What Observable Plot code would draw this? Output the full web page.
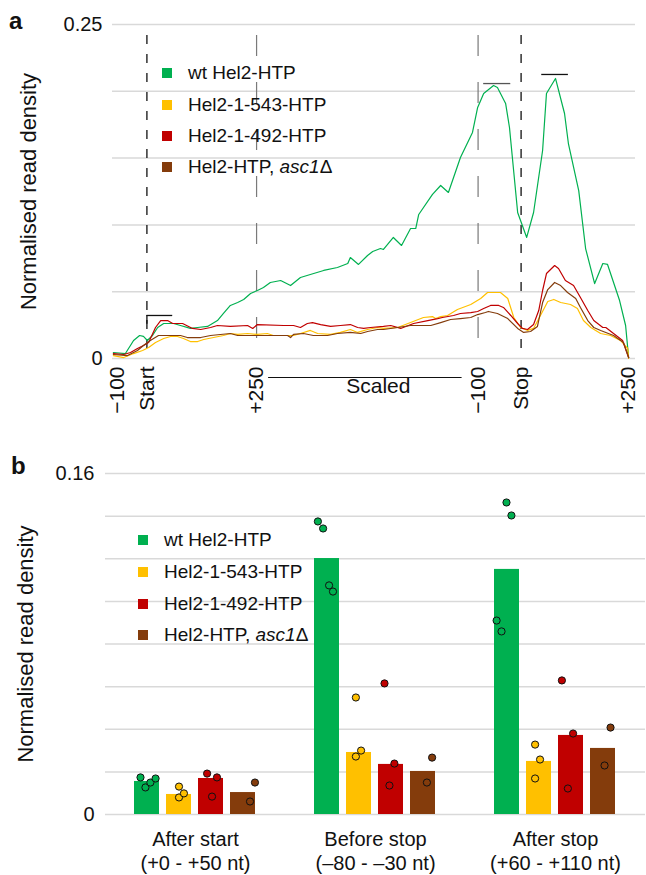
<!DOCTYPE html>
<html><head><meta charset="utf-8">
<script src="https://cdn.jsdelivr.net/npm/d3@7"></script>
<script src="https://cdn.jsdelivr.net/npm/@observablehq/plot@0.6"></script>
<style>
body{margin:0;background:#fff;font-family:"Liberation Sans",Arial,sans-serif;color:#111;}
#wrap{position:relative;width:646px;height:875px;overflow:hidden;}
.panel{position:relative;width:646px;}
.panel svg{display:block;}
.tag{position:absolute;font-weight:bold;font-size:24px;line-height:24px;}
.lg{position:absolute;font-size:19px;line-height:24px;white-space:nowrap;}
.sw{position:absolute;width:10px;height:10px;}
</style></head><body><div id="wrap"></div>
<script>
// ---------- shared ----------
const series = ["wt Hel2-HTP", "Hel2-1-543-HTP", "Hel2-1-492-HTP", "Hel2-HTP, asc1Δ"];
const colors = ["#00b050", "#ffc000", "#c00000", "#843c0c"];

// ---------- panel a : metagene profile (position in 10-nt bins) ----------
const xTickPos = [1, 8, 33.5, 85, 95, 120];
const xTickLabels = ["−100", "Start", "+250", "−100", "Stop", "+250"];
const anchorPos = [8, 95];          // Start, Stop
const windowEdgePos = [33.5, 85];   // +250 after start, -100 before stop
const gridA = [0, 0.05, 0.1, 0.15, 0.2, 0.25];

const profWt = [[0.2,0.0045],[3.0,0.0037],[4.9,0.0135],[6.3,0.0172],[7.2,0.0165],[8.1,0.0135],[9.3,0.0172],[10.5,0.0232],[11.9,0.0262],[14.2,0.0262],[15.8,0.0247],[18.1,0.0225],[19.8,0.0232],[22.1,0.0240],[24.4,0.0284],[25.8,0.0337],[27.4,0.0397],[29.1,0.0419],[30.5,0.0442],[32.1,0.0487],[33.7,0.0509],[35.1,0.0531],[36.7,0.0569],[39.1,0.0584],[41.4,0.0546],[43.7,0.0606],[46.0,0.0629],[49.1,0.0659],[52.3,0.0681],[54.7,0.0711],[55.3,0.0756],[57.2,0.0704],[59.3,0.0771],[60.5,0.0801],[62.3,0.0823],[63.0,0.0816],[65.3,0.0906],[67.2,0.0846],[69.3,0.0973],[70.5,0.0973],[71.2,0.1078],[74.4,0.1228],[76.3,0.1295],[78.1,0.1243],[80.9,0.1504],[83.7,0.1692],[84.9,0.1879],[86.3,0.1984],[88.6,0.2043],[89.5,0.2028],[91.4,0.1909],[92.3,0.1729],[94.2,0.1093],[96.3,0.0906],[97.9,0.1093],[100.0,0.1557],[100.9,0.1984],[103.0,0.2096],[105.1,0.1834],[106.0,0.1609],[108.4,0.1257],[110.0,0.0823],[112.1,0.0561],[114.0,0.0711],[115.1,0.0704],[117.9,0.0434],[119.3,0.0247],[120,0.0007]];
const prof543 = [[0.2,0.0022],[2.6,0.0007],[4.9,0.0037],[7.0,0.0060],[8.4,0.0082],[10.0,0.0120],[11.9,0.0150],[13.5,0.0165],[15.1,0.0165],[16.5,0.0150],[18.1,0.0127],[19.8,0.0127],[21.2,0.0142],[23.5,0.0157],[25.8,0.0172],[27.4,0.0187],[29.1,0.0180],[31.4,0.0187],[33.7,0.0180],[36.0,0.0187],[37.4,0.0172],[42.1,0.0172],[43.7,0.0187],[46.0,0.0210],[47.7,0.0187],[50.7,0.0180],[53.0,0.0195],[55.3,0.0217],[57.0,0.0195],[59.3,0.0217],[61.6,0.0232],[63.0,0.0225],[66.3,0.0232],[69.3,0.0269],[72.3,0.0307],[74.4,0.0314],[75.1,0.0299],[76.3,0.0314],[77.9,0.0322],[80.2,0.0367],[83.3,0.0404],[85.6,0.0449],[87.2,0.0494],[90.2,0.0494],[91.9,0.0449],[93.3,0.0307],[94.9,0.0232],[96.5,0.0210],[97.9,0.0225],[99.5,0.0322],[101.2,0.0427],[102.6,0.0442],[104.2,0.0419],[106.5,0.0404],[108.1,0.0374],[109.5,0.0284],[111.2,0.0232],[113.5,0.0187],[115.8,0.0172],[118.1,0.0135],[119.8,0.0075],[120,0.0]];
const prof492 = [[0.2,0.0037],[2.6,0.0030],[4.2,0.0045],[5.8,0.0075],[7.2,0.0097],[8.4,0.0120],[10.0,0.0232],[11.2,0.0284],[12.8,0.0284],[14.0,0.0262],[16.3,0.0262],[18.6,0.0225],[20.5,0.0217],[22.8,0.0232],[24.4,0.0247],[27.4,0.0240],[31.4,0.0247],[32.6,0.0225],[33.7,0.0254],[39.8,0.0247],[42.1,0.0247],[43.7,0.0232],[45.3,0.0262],[46.5,0.0269],[48.4,0.0254],[50.7,0.0240],[53.0,0.0247],[55.3,0.0254],[57.0,0.0232],[58.4,0.0225],[60.0,0.0232],[63.0,0.0240],[64.7,0.0247],[67.0,0.0225],[70.0,0.0262],[73.3,0.0284],[75.6,0.0299],[76.7,0.0307],[79.3,0.0322],[80.9,0.0337],[83.3,0.0344],[84.9,0.0352],[86.3,0.0374],[87.9,0.0397],[89.8,0.0397],[90.9,0.0382],[92.6,0.0322],[94.2,0.0262],[95.3,0.0225],[96.5,0.0217],[97.9,0.0254],[99.1,0.0359],[100.0,0.0509],[100.9,0.0636],[102.8,0.0696],[103.7,0.0674],[105.3,0.0584],[107.2,0.0546],[108.8,0.0457],[110.5,0.0359],[111.9,0.0284],[114.0,0.0232],[114.7,0.0232],[116.5,0.0187],[118.6,0.0135],[120,0.0007]];
const profAsc = [[0.2,0.0030],[3.5,0.0022],[5.8,0.0060],[7.2,0.0097],[8.8,0.0135],[10.7,0.0172],[15.8,0.0172],[17.4,0.0157],[20.5,0.0157],[22.8,0.0172],[27.4,0.0187],[29.1,0.0172],[40.7,0.0172],[41.4,0.0157],[42.1,0.0180],[44.4,0.0187],[46.7,0.0172],[50.0,0.0172],[52.3,0.0187],[55.3,0.0195],[57.7,0.0187],[59.3,0.0202],[61.6,0.0217],[63.0,0.0217],[66.3,0.0232],[69.3,0.0247],[74.0,0.0247],[76.3,0.0269],[78.6,0.0292],[80.9,0.0299],[83.3,0.0307],[84.9,0.0329],[86.7,0.0344],[87.4,0.0352],[89.5,0.0337],[91.9,0.0299],[94.2,0.0225],[95.6,0.0195],[97.2,0.0202],[98.8,0.0240],[100.0,0.0419],[101.2,0.0516],[102.8,0.0569],[104.2,0.0546],[105.8,0.0494],[107.7,0.0449],[108.8,0.0382],[110.5,0.0284],[111.9,0.0232],[113.5,0.0210],[116.5,0.0172],[118.8,0.0120],[120,0.0007]];
const profiles = [profWt, prof543, prof492, profAsc];

// quantification windows drawn above the profile
const windowStart = [8, 86.3, 99.8];
const windowEnd = [14, 92.6, 106];
const windowLevel = [0.0322, 0.2058, 0.2126];
const windowColor = ["#111", "#555", "#111"];

// ---------- panel b : window quantification ----------
const groups = ["After start\n(+0 - +50 nt)", "Before stop\n(–80 - –30 nt)", "After stop\n(+60 - +110 nt)"];
const gridB = [0, 0.02, 0.04, 0.06, 0.08, 0.1, 0.12, 0.14, 0.16];
const barWt  = [0.0155, 0.1201, 0.1150];
const bar543 = [0.0094, 0.0291, 0.0249];
const bar492 = [0.0169, 0.0235, 0.0371];
const barAsc = [0.0103, 0.0202, 0.0310];
const bars = [barWt, bar543, bar492, barAsc];

const repWt  = [[0.0174,0.0127,0.0150,0.0169],[0.1375,0.1342,0.1075,0.1046],[0.1464,0.1403,0.0910,0.0859]];
const rep543 = [[0.0131,0.0080,0.0099],[0.0549,0.0272,0.0300],[0.0328,0.0258,0.0169]];
const rep492 = [[0.0192,0.0174,0.0084],[0.0615,0.0239,0.0136],[0.0629,0.0380,0.0122]];
const repAsc = [[0.0150,0.0061],[0.0267,0.0150],[0.0408,0.0230]];
const reps = [repWt, rep543, rep492, repAsc];
// horizontal jitter of replicate dots (fraction of bar width)
const jitWt  = [[-0.25,-0.06,0.13,0.33],[-0.35,-0.15,0.08,0.23],[-0.02,0.17,-0.40,-0.21]];
const jit543 = [[0,0,0.19],[-0.12,-0.12,0.08],[-0.15,0.04,-0.15]];
const jit492 = [[-0.15,0.23,0.04],[-0.25,0.13,-0.06],[-0.35,0.08,-0.12]];
const jitAsc = [[0.46,0.27],[0.35,0.15],[0.29,0.06]];
const jits = [jitWt, jit543, jit492, jitAsc];

// ---------- build tables ----------
const lineData = [];
profiles.forEach((p, s) => p.forEach(([pos, value]) => lineData.push({series: series[s], pos, value})));
const windows = windowStart.map((x1, i) => ({x1, x2: windowEnd[i], y: windowLevel[i], c: windowColor[i]}));
const barData = [];
bars.forEach((b, s) => b.forEach((value, g) => barData.push({series: series[s], group: groups[g], value})));
const dotData = [];
reps.forEach((r, s) => r.forEach((vals, g) => vals.forEach((value, k) => dotData.push({series: series[s], group: groups[g], value, jitter: jits[s][g][k]}))));

const FONT = "'Liberation Sans', Arial, sans-serif";
const wrap = document.getElementById("wrap");

function addLegend(panel, x, ys) {
  series.forEach((name, i) => {
    const sw = document.createElement("div");
    sw.className = "sw";
    sw.style.left = (x - 5) + "px";
    sw.style.top = (ys[i] - 5) + "px";
    sw.style.background = colors[i];
    panel.appendChild(sw);
    const t = document.createElement("div");
    t.className = "lg";
    t.style.left = (x + 21) + "px";
    t.style.top = (ys[i] - 12) + "px";
    if (name.endsWith("asc1Δ")) t.innerHTML = "Hel2-HTP, <i>asc1</i>Δ";
    else t.textContent = name;
    panel.appendChild(t);
  });
}
function addTag(panel, txt, x, y) {
  const d = document.createElement("div");
  d.className = "tag"; d.textContent = txt;
  d.style.left = x + "px"; d.style.top = y + "px";
  panel.appendChild(d);
}

// ---------- panel a ----------
const tickLabel = new Map(xTickPos.map((p, i) => [p, xTickLabels[i]]));
const plotA = Plot.plot({
  width: 646, height: 430,
  marginLeft: 112, marginRight: 11, marginTop: 24, marginBottom: 72,
  style: {fontFamily: FONT, fontSize: "20px", color: "#111", background: "#fff"},
  x: {domain: [0, 121.6]},
  y: {domain: [0, 0.25]},
  color: {domain: series, range: colors},
  marks: [
    Plot.gridY(gridA, {stroke: "#d9d9d9", strokeOpacity: 1, strokeWidth: 1.5}),
    Plot.axisY([0, 0.25], {tickSize: 0, tickPadding: 10, fontSize: 20, tickFormat: d => d === 0 ? "0" : String(d), label: null}),
    Plot.axisY({tickSize: 0, ticks: [], fontSize: 22,
      label: "Normalised read density", labelAnchor: "center", labelArrow: "none", labelOffset: 92}),
    Plot.axisX(xTickPos, {tickSize: 0, tickPadding: 8, tickRotate: -90, fontSize: 21, label: null,
      tickFormat: d => tickLabel.get(d)}),
    Plot.ruleX(windowEdgePos, {y1: 0.2418, y2: 0, stroke: "#7a7a7a", strokeWidth: 1.2, strokeDasharray: "21,26"}),
    Plot.ruleX(anchorPos, {y1: 0.2418, y2: 0, stroke: "#111", strokeWidth: 1.3, strokeDasharray: "9,10"}),
    Plot.line(lineData, {x: "pos", y: "value", z: "series", stroke: "series", strokeWidth: 1.2}),
    Plot.ruleY(windows, {x1: "x1", x2: "x2", y: "y", stroke: "c", strokeWidth: 1.3}),
    Plot.ruleX(windows.slice(0, 1), {x: "x1", y1: "y", y2: d => d.y - 0.0065, stroke: "c", strokeWidth: 1.3}),
    Plot.ruleY([0], {x1: windowEdgePos[0], x2: windowEdgePos[1], insetLeft: 12, insetRight: 16, dy: 19, stroke: "#111", strokeWidth: 1.2}),
    Plot.text(["Scaled"], {x: (windowEdgePos[0] + windowEdgePos[1]) / 2, frameAnchor: "bottom", dy: 34, dx: 11, fontSize: 21, fill: "#111"})
  ]
});
const panelA = document.createElement("div");
panelA.className = "panel";
panelA.appendChild(plotA);
wrap.appendChild(panelA);
addLegend(panelA, 167, [73, 105, 136, 167]);
addTag(panelA, "a", 9, 9);

// ---------- panel b ----------
const BAR_W = 26;
const plotB = Plot.plot({
  width: 646, height: 445,
  marginLeft: 104, marginRight: 0, marginTop: 43, marginBottom: 61,
  style: {fontFamily: FONT, fontSize: "20px", color: "#111", background: "#fff"},
  fx: {domain: groups, padding: 0},
  x: {domain: series, paddingInner: 0.21, paddingOuter: 0.84, axis: null},
  y: {domain: [0, 0.16]},
  color: {domain: series, range: colors},
  marks: [
    Plot.gridY(gridB, {stroke: "#d9d9d9", strokeOpacity: 1, strokeWidth: 1.5}),
    Plot.axisY([0, 0.16], {tickSize: 0, tickPadding: 11, fontSize: 20, tickFormat: d => d === 0 ? "0" : String(d), label: null}),
    Plot.axisY({tickSize: 0, ticks: [], fontSize: 22,
      label: "Normalised read density", labelAnchor: "center", labelArrow: "none", labelOffset: 88}),
    Plot.axisFx({anchor: "bottom", tickSize: 0, tickPadding: 14, fontSize: 20, lineHeight: 1.2, label: null, tickFormat: d => d}),
    Plot.barY(barData, {fx: "group", x: "series", y: "value", fill: "series"}),
    ...dotData.map(d => Plot.dot([d], {fx: "group", x: "series", y: "value", dx: d.jitter * BAR_W, r: 3.6,
      fill: "series", stroke: "#111", strokeWidth: 1}))
  ]
});
const panelB = document.createElement("div");
panelB.className = "panel";
panelB.appendChild(plotB);
wrap.appendChild(panelB);
addLegend(panelB, 143, [110, 142, 174, 205]);
addTag(panelB, "b", 11, 24);
</script></body></html>
